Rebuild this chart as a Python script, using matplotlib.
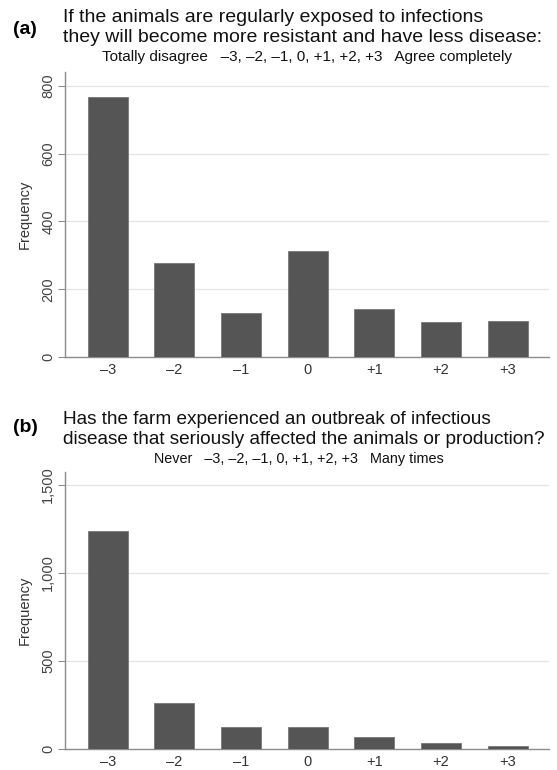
import numpy as np
import matplotlib
matplotlib.use("Agg")
import matplotlib.pyplot as plt
from matplotlib.ticker import FuncFormatter

plt.rcParams['font.family'] = ['Liberation Sans', 'DejaVu Sans']

categories = ["\u20133", "\u20132", "\u20131", "0", "+1", "+2", "+3"]
resistant_freq = [766, 278, 131, 312, 142, 104, 106]
outbreak_freq = [1240, 260, 127, 123, 66, 32, 15]

panel_a_title = ["If the animals are regularly exposed to infections",
                 "they will become more resistant and have less disease:"]
panel_a_scale = "Totally disagree   \u20133, \u20132, \u20131, 0, +1, +2, +3   Agree completely"
panel_b_title = ["Has the farm experienced an outbreak of infectious",
                 "disease that seriously affected the animals or production?"]
panel_b_scale = "Never   \u20133, \u20132, \u20131, 0, +1, +2, +3   Many times"

W, H = 557, 770
BAR = "#555555"
AXIS = "#8c8c8c"
GRID = "#e4e4e4"


def px_axes(fig, left, right, top, bottom):
    return fig.add_axes([left / W, 1 - bottom / H, (right - left) / W, (bottom - top) / H])


def draw_panel(ax, values, yticks, ytop, fmt):
    x = np.arange(len(values))
    ax.bar(x, values, width=0.6, color=BAR, edgecolor="#777777", linewidth=0.6, zorder=3)
    ax.set_xlim(-0.64, len(values) - 0.38)
    ax.set_ylim(0, ytop)
    ax.set_xticks(x)
    ax.set_xticklabels(categories, fontsize=10.5, color="#333333")
    ax.tick_params(axis="x", length=0, pad=4)
    ax.set_yticks(yticks)
    ax.yaxis.set_major_formatter(FuncFormatter(fmt))
    ax.tick_params(axis="y", length=5, width=0.8, color=AXIS, labelsize=10.5,
                   labelcolor="#444444", pad=2)
    for lab in ax.get_yticklabels():
        lab.set_rotation(90)
        lab.set_va("center")
    for t in yticks[1:]:
        ax.axhline(t, color=GRID, lw=0.9, zorder=1)
    for s in ["top", "right"]:
        ax.spines[s].set_visible(False)
    for s in ["left", "bottom"]:
        ax.spines[s].set_color(AXIS)
        ax.spines[s].set_linewidth(1.0)
    ax.set_ylabel("Frequency", fontsize=10.5, color="#333333")
    ax.yaxis.set_label_coords(-0.068, 0.5)


def add_heading(fig, label, lines, scale, ys, title_size, scale_size, scale_x):
    y1, y2, y3, ylab = ys
    fig.text(13 / W, 1 - ylab / H, label, fontsize=14, fontweight="bold", va="center")
    fig.text(63 / W, 1 - y1 / H, lines[0], fontsize=title_size, va="center", color="#111111")
    fig.text(63 / W, 1 - y2 / H, lines[1], fontsize=title_size, va="center", color="#111111")
    fig.text(scale_x / W, 1 - y3 / H, scale, fontsize=scale_size, va="center", ha="center",
             color="#111111")


fig = plt.figure(figsize=(W / 100, H / 100), dpi=100)

ax_a = px_axes(fig, 65, 549, 72, 357)
draw_panel(ax_a, resistant_freq, [0, 200, 400, 600, 800], 841, lambda v, p: f"{int(v)}")
add_heading(fig, "(a)", panel_a_title, panel_a_scale, (18, 37, 57, 29), 14.0, 11.0, 307)

ax_b = px_axes(fig, 65, 549, 472, 749)
draw_panel(ax_b, outbreak_freq, [0, 500, 1000, 1500], 1574, lambda v, p: f"{int(v):,}")
add_heading(fig, "(b)", panel_b_title, panel_b_scale, (420, 439, 459, 428), 13.7, 10.4, 299)

fig.savefig("out.png", dpi=100)
